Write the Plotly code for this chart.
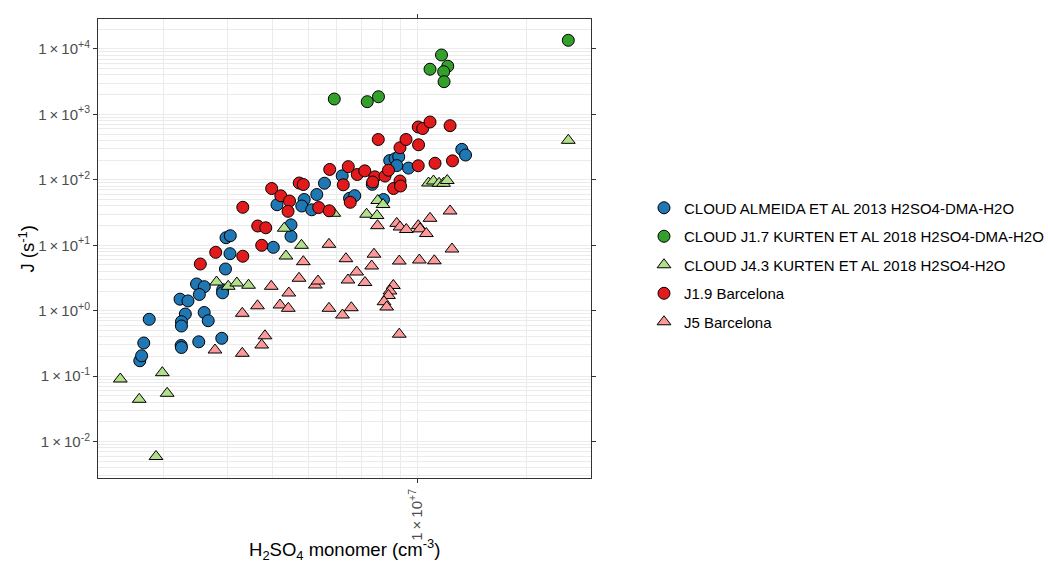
import plotly.graph_objects as go

# H2SO4 monomer concentration (cm^-3) and nucleation rate J (s^-1) for each dataset
almeida_h2so4 = [1.72e6, 1.74e6, 1.764e6, 1.826e6, 2.22e6, 2.335e6, 2.465e6, 2.59e6, 2.51e6,
                 2.296e6, 2.24e6, 2.24e6, 2.236e6, 2.24e6, 2.50e6, 2.588e6, 2.655e6, 2.893e6,
                 2.91e6, 2.907e6, 2.962e6, 2.972e6, 3.054e6, 3.048e6, 4.012e6, 4.107e6, 4.488e6,
                 4.488e6, 4.88e6, 4.806e6, 5.118e6, 5.286e6, 5.55e6, 6.21e6, 6.507e6, 6.725e6,
                 7.516e6, 8.395e6, 8.683e6, 8.889e6, 8.781e6, 9.458e6, 8.07e6, 1.326e7, 1.358e7]
almeida_j = [0.172, 0.205, 0.321, 0.739, 1.50, 1.41, 2.56, 2.33, 1.77,
             0.89, 0.679, 0.584, 0.294, 0.274, 0.335, 0.939, 0.703, 0.379,
             2.09, 1.877, 4.34, 13.04, 13.99, 7.43, 9.30, 41.6, 20.5,
             13.7, 50.0, 39.8, 34.8, 59.6, 88.7, 115, 52.2, 57.2,
             85.3, 197, 210, 225, 165, 151, 50.0, 292, 239]

kurten17_h2so4 = [5.906e6, 7.28e6, 7.817e6, 1.084e7, 1.166e7, 1.213e7, 1.182e7, 1.185e7, 2.606e7]
kurten17_j = [1716, 1561, 1860, 4895, 8070, 5441, 4483, 3155, 13530]

kurten43_h2so4 = [1.52e6, 1.714e6, 1.984e6, 2.046e6, 1.906e6, 2.798e6, 3.014e6, 3.183e6,
                  3.428e6, 4.30e6, 4.347e6, 4.797e6, 5.888e6, 7.78e6, 8.045e6, 7.25e6,
                  7.745e6, 1.074e7, 1.108e7, 1.148e7, 1.181e7, 1.209e7, 2.606e7]
kurten43_j = [0.0905, 0.0443, 0.113, 0.0547, 0.00592, 2.745, 2.36, 2.65,
              2.45, 18.2, 6.85, 9.98, 30.8, 48.3, 41.9, 29.8,
              28.5, 89.4, 95.9, 88.4, 88.4, 97.6, 401]

bcn19_h2so4 = [2.525e6, 2.784e6, 3.306e6, 3.727e6, 3.634e6, 3.824e6, 3.306e6, 3.97e6,
               4.207e6, 4.446e6, 4.404e6, 4.728e6, 4.853e6, 5.35e6, 5.72e6, 5.737e6,
               6.253e6, 6.455e6, 6.833e6, 7.166e6, 7.636e6, 8.147e6, 8.33e6, 7.535e6,
               8.60e6, 8.96e6, 8.99e6, 7.807e6, 8.96e6, 9.31e6, 1.006e7, 1.035e7,
               1.084e7, 1.231e7, 1.008e7, 1.006e7, 1.119e7, 1.250e7, 6.537e6]
bcn19_j = [5.17, 7.80, 6.80, 9.98, 19.7, 18.5, 38.0, 73.6,
           56.9, 47.4, 33.0, 89.4, 84.8, 37.7, 33.6, 144,
           83.9, 159, 120.5, 137, 111, 114, 140, 92.5,
           73.6, 95.9, 80.4, 413, 309, 413, 641, 608,
           764, 671, 343, 164, 179, 195, 45.3]

bcn5_h2so4 = [2.771e6, 3.295e6, 3.295e6, 3.629e6, 3.805e6, 3.727e6, 3.96e6, 4.186e6,
              4.412e6, 4.426e6, 4.722e6, 4.853e6, 5.236e6, 5.326e6, 5.711e6, 5.711e6,
              6.221e6, 6.58e6, 6.36e6, 6.808e6, 6.443e6, 7.175e6, 7.597e6, 7.487e6,
              7.77e6, 8.776e6, 8.96e6, 9.326e6, 1.006e7, 1.017e7, 1.059e7, 1.084e7,
              1.231e7, 8.92e6, 1.013e7, 1.114e7, 1.246e7, 8.59e6, 8.41e6, 8.33e6,
              8.096e6, 8.235e6, 8.92e6]
bcn5_j = [0.251, 0.2234, 0.913, 1.188, 0.4136, 0.299, 2.36, 1.222,
          1.088, 1.864, 3.13, 5.61, 2.47, 2.84, 1.088, 10.34,
          0.86, 1.111, 6.23, 3.90, 2.945, 2.70, 7.30, 4.82,
          19.9, 21.6, 19.0, 17.4, 19.9, 17.8, 15.1, 25.8,
          33.4, 5.74, 5.95, 5.79, 8.76, 2.43, 2.00, 1.707,
          1.372, 1.139, 0.4375]

series = [
    ("CLOUD ALMEIDA ET AL 2013 H2SO4-DMA-H2O", almeida_h2so4, almeida_j, "circle", "#1f78b4"),
    ("CLOUD J1.7 KURTEN ET AL 2018 H2SO4-DMA-H2O", kurten17_h2so4, kurten17_j, "circle", "#33a02c"),
    ("CLOUD J4.3 KURTEN ET AL 2018 H2SO4-H2O", kurten43_h2so4, kurten43_j, "triangle-up", "#b2df8a"),
    ("J1.9 Barcelona", bcn19_h2so4, bcn19_j, "circle", "#e31a1c"),
    ("J5 Barcelona", bcn5_h2so4, bcn5_j, "triangle-up", "#fb9a99"),
]

y_tick_vals = [1e-2, 1e-1, 1e0, 1e1, 1e2, 1e3, 1e4]
y_tick_text = ["1\u2009×\u200910<sup>-2</sup>", "1\u2009×\u200910<sup>-1</sup>",
               "1\u2009×\u200910<sup>+0</sup>", "1\u2009×\u200910<sup>+1</sup>",
               "1\u2009×\u200910<sup>+2</sup>", "1\u2009×\u200910<sup>+3</sup>",
               "1\u2009×\u200910<sup>+4</sup>"]
x_tick_vals = [1e7]
x_tick_text = ["1\u2009×\u200910<sup>+7</sup>"]

x_minor = [m * 1e6 for m in range(2, 10)] + [2e7, 3e7]
y_minor = [m * 10.0 ** e for e in range(-3, 5) for m in range(2, 10)]

fig = go.Figure()
for i, (name, xs, ys, sym, col) in enumerate(series):
    fig.add_trace(go.Scatter(
        x=xs, y=ys, mode="markers", name=name, legendgroup=str(i),
        marker=dict(symbol=sym, size=12, color=col, line=dict(color="#000000", width=1)),
    ))

font_family = "Liberation Sans, Arial, sans-serif"
axis_common = dict(
    type="log", showline=True, linecolor="#333333", linewidth=1, mirror="ticks",
    ticks="outside", ticklen=4, tickcolor="#333333", tickwidth=1,
    showgrid=True, gridcolor="#ebebeb", gridwidth=1, zeroline=False,
    tickfont=dict(family=font_family, size=15, color="#4d4d4d"),
    tickmode="array", automargin=False,
)

fig.update_xaxes(**axis_common, range=[6.1204, 7.4785], tickvals=x_tick_vals,
                 ticktext=x_tick_text, tickangle=-90,
                 minor=dict(tickmode="array", tickvals=x_minor, showgrid=True,
                            gridcolor="#ebebeb", gridwidth=1, ticks=""))
fig.update_yaxes(**axis_common, range=[-2.556, 4.457], tickvals=y_tick_vals,
                 ticktext=y_tick_text,
                 minor=dict(tickmode="array", tickvals=y_minor, showgrid=True,
                            gridcolor="#ebebeb", gridwidth=1, ticks=""))

fig.update_layout(
    width=1048, height=565,
    margin=dict(l=98, r=457, t=19, b=87, autoexpand=False),
    paper_bgcolor="white", plot_bgcolor="white",
    font=dict(family=font_family, color="#000000"),
    showlegend=True,
    legend=dict(x=1.1075, y=0.464, xanchor="left", yanchor="middle",
                font=dict(family=font_family, size=15, color="#000000"),
                tracegroupgap=6, bgcolor="rgba(0,0,0,0)"),
    annotations=[
        dict(text="H<sub>2</sub>SO<sub>4</sub> monomer (cm<sup>-3</sup>)", xref="paper", yref="paper",
             x=0.5, y=-0.156, xanchor="center", yanchor="middle", showarrow=False,
             font=dict(family=font_family, size=18.5, color="#000000")),
        dict(text="J (s<sup>-1</sup>)", xref="paper", yref="paper", textangle=-90,
             x=-0.146, y=0.5, xanchor="center", yanchor="middle", showarrow=False,
             font=dict(family=font_family, size=18.5, color="#000000")),
    ],
)

fig.write_html("out.html")
